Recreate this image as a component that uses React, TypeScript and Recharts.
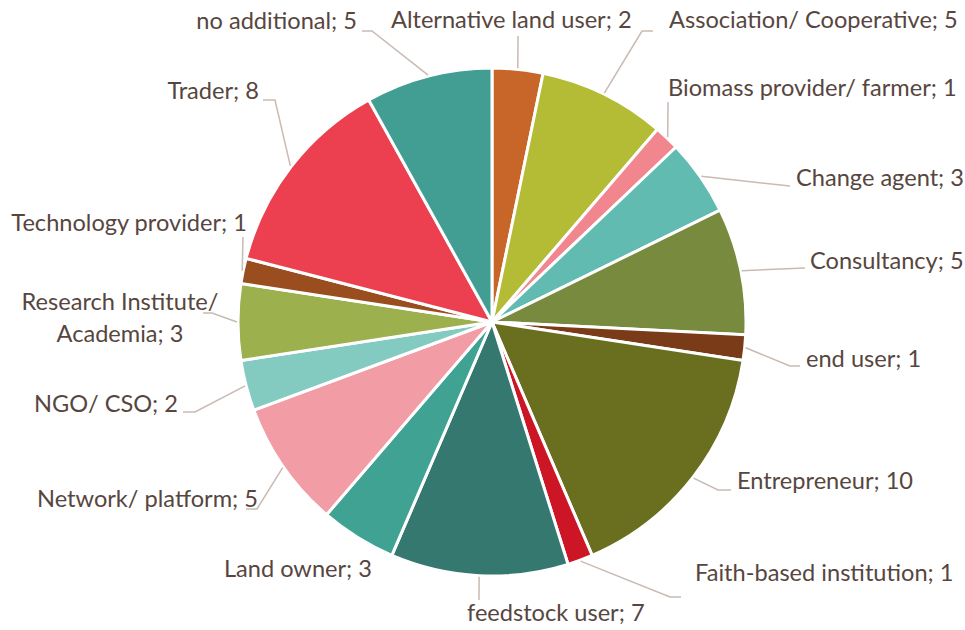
import { Cell, Pie, PieChart } from 'recharts'

const categories = [
  'Alternative land user',
  'Association/ Cooperative',
  'Biomass provider/ farmer',
  'Change agent',
  'Consultancy',
  'end user',
  'Entrepreneur',
  'Faith-based institution',
  'feedstock user',
  'Land owner',
  'Network/ platform',
  'NGO/ CSO',
  'Research Institute/ Academia',
  'Technology provider',
  'Trader',
  'no additional',
]

const counts = [2, 5, 1, 3, 5, 1, 10, 1, 7, 3, 5, 2, 3, 1, 8, 5]

const sliceColors = [
  '#c8662a',
  '#b4bb35',
  '#f2868f',
  '#62bbb1',
  '#778a3e',
  '#7a3b19',
  '#6a6f20',
  '#cc1625',
  '#357870',
  '#40a293',
  '#f29ca5',
  '#83cac1',
  '#9cb04e',
  '#9a4e20',
  '#ec4050',
  '#429e93',
]

const data = categories.map((name, i) => ({ name, value: counts[i] }))

// hand placed label boxes, like the original chart (text anchor + leader elbow points)
type Layout = {
  x: number
  y: number
  anchor: 'start' | 'end' | 'middle'
  elbow: [number, number][]
  wrap?: boolean
}

const labelLayout: Layout[] = [
  { x: 391, y: 28, anchor: 'start', elbow: [[518, 36]] },
  { x: 669, y: 28, anchor: 'start', elbow: [[642, 31], [653, 31]] },
  { x: 668, y: 96, anchor: 'start', elbow: [[668, 102]] },
  { x: 796, y: 186, anchor: 'start', elbow: [[790, 186]] },
  { x: 810, y: 269, anchor: 'start', elbow: [[805, 268]] },
  { x: 806, y: 367, anchor: 'start', elbow: [[790, 366], [800, 366]] },
  { x: 737, y: 489, anchor: 'start', elbow: [[718, 490], [731, 490]] },
  { x: 695, y: 581, anchor: 'start', elbow: [[670, 597], [681, 597]] },
  { x: 467, y: 621, anchor: 'start', elbow: [[479, 600]] },
  { x: 372, y: 577, anchor: 'end', elbow: [] },
  { x: 258, y: 507, anchor: 'end', elbow: [[257, 509], [246, 509]] },
  { x: 178, y: 412, anchor: 'end', elbow: [[195, 412], [183, 412]] },
  { x: 120, y: 310, anchor: 'middle', elbow: [[212, 313], [203, 313]], wrap: true },
  { x: 247, y: 231, anchor: 'end', elbow: [[243, 237]] },
  { x: 259, y: 99, anchor: 'end', elbow: [[275, 100], [263, 100]] },
  { x: 357, y: 29, anchor: 'end', elbow: [[372, 31], [362, 31]] },
]

const RAD = Math.PI / 180
const textColor = '#574640'
const lineColor = '#c9bab2'

function renderLabel(props: any) {
  const { cx, cy, midAngle, outerRadius, index } = props
  const d = data[index]
  const lay = labelLayout[index]
  const r = outerRadius + 1
  const sx = cx + r * Math.cos(-midAngle * RAD)
  const sy = cy + r * Math.sin(-midAngle * RAD)
  const pts = [[sx, sy], ...lay.elbow].map((p) => p.join(',')).join(' ')
  const text = `${d.name}; ${d.value}`
  const lines = lay.wrap ? [d.name.split('/ ')[0] + '/', d.name.split('/ ')[1] + '; ' + d.value] : [text]
  return (
    <g key={`lbl-${index}`}>
      {lay.elbow.length > 0 && (
        <polyline points={pts} fill="none" stroke={lineColor} strokeWidth={1.5} />
      )}
      <text x={lay.x} y={lay.y} textAnchor={lay.anchor} fill={textColor} fontSize={23.6}>
        {lines.map((l, i) => (
          <tspan key={i} x={lay.x} dy={i === 0 ? 0 : 32}>
            {l}
          </tspan>
        ))}
      </text>
    </g>
  )
}

export default function App() {
  return (
    <div style={{ position: 'absolute', left: 0, top: 0, fontFamily: 'Lato, sans-serif' }}>
      <PieChart width={965} height={630} margin={{ top: 0, right: 0, bottom: 0, left: 0 }}>
        <Pie
          data={data}
          dataKey="value"
          nameKey="name"
          cx={492}
          cy={322}
          outerRadius={254}
          startAngle={90}
          endAngle={-270}
          stroke="#ffffff"
          strokeWidth={3}
          label={renderLabel}
          labelLine={false}
          isAnimationActive={false}
        >
          {data.map((d, i) => (
            <Cell key={d.name} fill={sliceColors[i]} />
          ))}
        </Pie>
      </PieChart>
    </div>
  )
}
